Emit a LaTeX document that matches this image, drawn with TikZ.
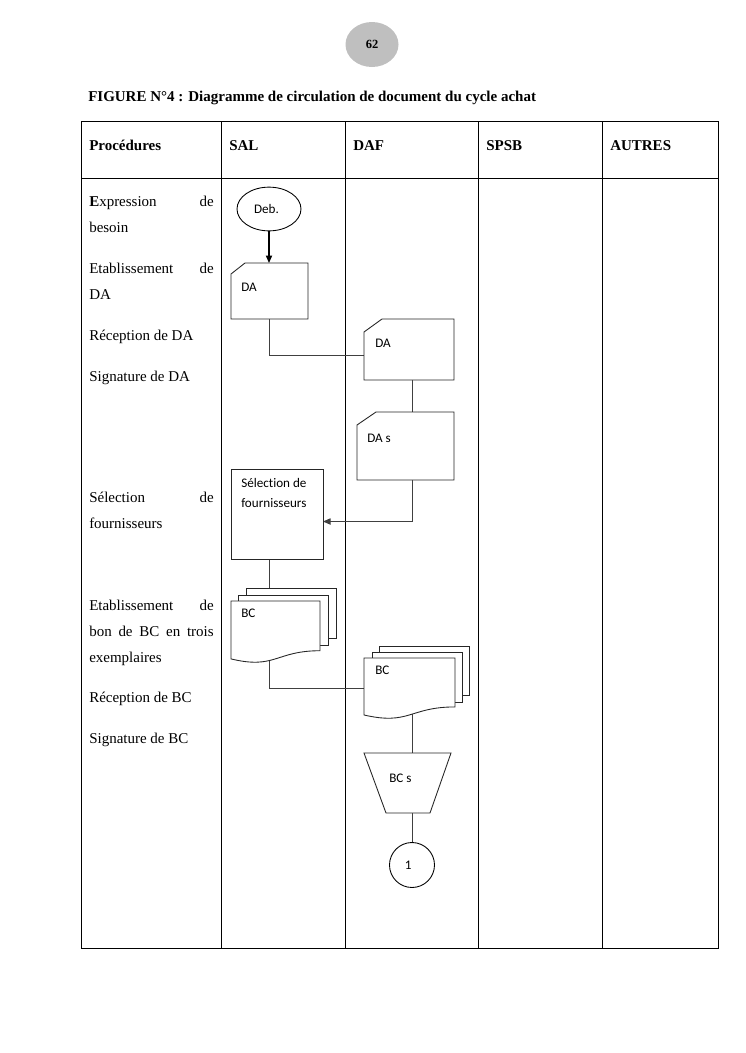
\documentclass[tikz,border=0pt]{standalone}
\usepackage{fontspec}
\setmainfont{Liberation Serif}
\newfontfamily\calfont[Ligatures=CommonOff]{Carlito}
\usetikzlibrary{arrows.meta,fit,calc,shapes.geometric}
\begin{document}
\begin{tikzpicture}[x=0.8pt,y=-0.8pt,
  gridline/.style={line width=0.8pt,black},
  geom/.style={inner sep=0pt,outer sep=0pt},
  shp/.style={line width=0.7pt,draw=black!85,fill=white},
  conn/.style={line width=0.7pt,draw=black!75},
  lbl/.style={font=\calfont\fontsize{10.5}{16}\selectfont,inner sep=0pt,anchor=base west,align=left},
  proc/.style={font=\fontsize{12}{14}\selectfont,inner sep=0pt,anchor=base west},
  head/.style={font=\bfseries\fontsize{12}{14}\selectfont,inner sep=0pt,anchor=base west},
  arr/.style={-{Triangle[length=6pt,width=5pt]}}
]
\useasboundingbox (0,0) rectangle (745,1053);

% page number and title
\node[ellipse,fill=black!25,minimum width=42.4pt,minimum height=36pt,inner sep=0pt] (pg) at (372,44.5) {\bfseries\fontsize{10}{12}\selectfont 62};
\node[head] (title) at (88,101.5) {FIGURE N°4 : Diagramme de circulation de document du cycle achat};

% table
\draw[gridline] (81,121) rectangle (718,948);
\draw[gridline] (81,178) -- (718,178);
\foreach \xx in {221,345,478,602} \draw[gridline] (\xx,121) -- (\xx,948);

\node[head] (h1) at (89,150) {Procédures};
\node[head] (h2) at (229,150) {SAL};
\node[head] (h3) at (353,150) {DAF};
\node[head] (h4) at (486,150) {SPSB};
\node[head] (h5) at (610,150) {AUTRES};

% procedures column
\node[proc] (p1) at (89,206) {\makebox[99.6pt][s]{\textbf{E}xpression de}};
\node[proc] (p2) at (89,232) {besoin};
\node[proc] (p3) at (89,273) {\makebox[99.6pt][s]{Etablissement de}};
\node[proc] (p4) at (89,299) {DA};
\node[proc] (p5) at (89,340) {Réception de DA};
\node[proc] (p6) at (89,381) {Signature de DA};
\node[proc] (p7) at (89,502) {\makebox[99.6pt][s]{Sélection de}};
\node[proc] (p8) at (89,528) {fournisseurs};
\node[proc] (p9) at (89,610) {\makebox[99.6pt][s]{Etablissement de}};
\node[proc] (p10) at (89,636) {\makebox[99.6pt][s]{bon de BC en trois}};
\node[proc] (p11) at (89,662) {exemplaires};
\node[proc] (p12) at (89,702) {Réception de BC};
\node[proc] (p13) at (89,743) {Signature de BC};

% geometry of shapes
\coordinate (xl) at (269,0);
\coordinate (xr) at (412,0);
\node[ellipse,draw,line width=0.7pt,minimum width=51.2pt,minimum height=35pt,inner sep=0pt,font=\calfont\fontsize{10.5}{12}\selectfont] (deb) at (269,209) {Deb.\hspace*{4pt}};
\node[geom,fit={(231,263) (308,319)}] (da1) {};
\node[geom,fit={(364,319) (454,380)}] (da2) {};
\node[geom,fit={(357,412) (454,480)}] (da3) {};
\node[geom,fit={(231,469) (323,559)}] (sel) {};
\node[geom,fit={(246,588) (336,638)}] (bc1a) {};
\node[geom,fit={(238,595) (328,645)}] (bc1b) {};
\node[geom,fit={(231,601) (320,663)}] (bc1c) {};
\node[geom,fit={(379,646) (469,695)}] (bc2a) {};
\node[geom,fit={(372,652) (462,702)}] (bc2b) {};
\node[geom,fit={(364,658) (455,719)}] (bc2c) {};
\node[geom,fit={(364,753) (451,813)}] (trap) {};

% connectors (drawn under the shapes)
\draw[line width=0.9pt,arr] (deb.south) -- (deb.south |- da1.north);
\draw[conn] (da1.south -| xl) |- ($(da2.west)+(0,6)$);
\draw[conn] (da2.south -| xr) -- (da3.north -| xr);
\draw[conn,arr] (da3.south -| xr) |- ($(sel.east)+(0,7.5)$);
\draw[conn] (sel.south -| xl) -- (bc1a.north -| xl);
\draw[conn] (bc1c.center -| xl) |- (bc2c.west);
\draw[conn] (bc2c.center -| xr) -- (trap.north -| xr);
\draw[conn] (trap.south -| xr) -- (412,842);

% card shapes
\foreach \n/\dx/\dy in {da1/14/11,da2/18/13,da3/19/13}
  \draw[shp] (\n.north east) -- (\n.south east) -- (\n.south west) -- ($(\n.north west)+(0,\dy)$) -- ($(\n.north west)+(\dx,0)$) -- cycle;
% process box
\draw[shp] (sel.north west) rectangle (sel.south east);
% multi-documents
\foreach \a/\b/\c in {bc1a/bc1b/bc1c,bc2a/bc2b/bc2c}{
  \draw[shp] (\a.north west) rectangle (\a.south east);
  \draw[shp] (\b.north west) rectangle (\b.south east);
  \draw[shp] (\c.north west) -- (\c.north east) -- ($(\c.north east)!0.802!(\c.south east)$)
    .. controls ($(\c.north)!0.802!(\c.south)$) and ($(\c.north)!1.1075!(\c.south)$) .. ($(\c.north west)!0.934!(\c.south west)$) -- cycle;
}
% trapezoid
\draw[shp] (trap.north west) -- (trap.north east) -- ($(trap.south east)+(-21,0)$) -- ($(trap.south west)+(22,0)$) -- cycle;
% connector circle
\node[circle,draw,line width=0.7pt,minimum size=36pt,inner sep=0pt,font=\calfont\fontsize{10.5}{12}\selectfont] (one) at (412,865) {1\hspace*{6pt}};

% labels
\node[lbl] (l1) at (241,291) {DA};
\node[lbl] (l2) at (375,347) {DA};
\node[lbl] (l3) at (367,442) {DA s};
\node[lbl] (l4) at (241,507) {Sélection de\\fournisseurs};
\node[lbl] (l5) at (241,617) {BC};
\node[lbl] (l6) at (375,674) {BC};
\node[lbl] (l7) at (389,782) {BC s};
\end{tikzpicture}
\end{document}
